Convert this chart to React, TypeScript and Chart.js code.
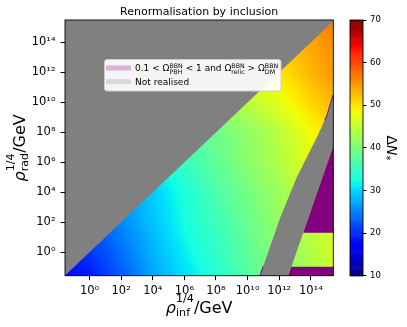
import React, { useEffect, useRef } from 'react';
import { Chart, registerables } from 'chart.js';

Chart.register(...registerables);

// ---------- data (log10 exponents) ----------
// grid nodes of the Delta N_* field
const logRhoInf = [-2, 0, 2, 4, 6, 8, 10, 12, 14, 16];
const logRhoRad = [-2, 0, 2, 4, 6, 8, 10, 12, 14, 16];
// Delta N_* read along rows of constant rho_rad (one array per rho_rad node)
const dN_rad_m2 = [17, 18.5, 22.5, 27, 30.5, 33.5, 37, 40, 43, 46];
const dN_rad_0 = [18.5, 20.5, 24, 28, 31.5, 34.5, 37.8, 41, 44, 47];
const dN_rad_2 = [19.5, 22, 25.5, 29, 32.5, 35.5, 38.6, 42, 45, 48];
const dN_rad_4 = [21, 23, 26.5, 29.5, 33, 36.5, 39.5, 42.5, 46, 49];
const dN_rad_6 = [22, 25, 28.5, 32, 35, 38, 41, 44, 47.5, 50.5];
const dN_rad_8 = [23, 26, 29.5, 33, 36, 39, 41.5, 44.5, 48.5, 51.5];
const dN_rad_10 = [24, 27, 31, 35, 38.5, 41.5, 44.5, 47.5, 51, 54];
const dN_rad_12 = [25, 28, 32, 36, 40, 43.5, 47, 50, 53, 56];
const dN_rad_14 = [26, 29, 33, 37, 41, 45, 49, 52, 54, 56.5];
const dN_rad_16 = [27, 30, 34, 38, 42, 46, 50, 53, 55.5, 58.5];
const deltaNRows = [dN_rad_m2, dN_rad_0, dN_rad_2, dN_rad_4, dN_rad_6, dN_rad_8, dN_rad_10, dN_rad_12, dN_rad_14, dN_rad_16];

// "not realised" region above rho_rad = rho_inf
const upperX = [-3, 17, -3];
const upperY = [-3, 17, 17];
// "not realised" band
const bandLeftX = [10.31, 10.78, 12.05, 13.12, 14.45, 15.02, 15.4, 16.0];
const bandLeftY = [-3, -1.58, 2.29, 5.02, 7.82, 9.15, 10.49, 12.0];
const bandRightX = [12.1, 13.518, 16.0];
const bandRightY = [-3, 1.3, 8.85];
// PBH region (0.1 < Omega_PBH < 1 and Omega_relic > Omega_DM)
const pbhUpperX = [16.0, 13.518, 16.0];
const pbhUpperY = [8.85, 1.3, 1.3];
const pbhLowerX = [12.767, 16.0, 16.0, 12.1];
const pbhLowerY = [-0.98, -0.98, -3, -3];
const pbhEdgeTopX = [14.87, 15.02, 15.4];
const pbhEdgeTopY = [8.8, 9.15, 10.49];
const pbhEdgeBotX = [10.31, 10.78, 10.98];
const pbhEdgeBotY = [-3, -1.58, -0.95];

const xTickExps = [0, 2, 4, 6, 8, 10, 12, 14];
const yTickExps = [0, 2, 4, 6, 8, 10, 12, 14];
const xRange = [-1.55, 15.42];
const yRange = [-1.57, 15.5];
const cbarRange = [10, 70];

const FONT = '"DejaVu Sans", sans-serif';
const GRAY = '#808080';
const PURPLE = '#800080';

const SUP: Record<string, string> = { '0': '\u2070', '1': '\u00b9', '2': '\u00b2', '3': '\u00b3', '4': '\u2074', '5': '\u2075', '6': '\u2076', '7': '\u2077', '8': '\u2078', '9': '\u2079', '-': '\u207b' };
const toSup = (n: number) => String(n).split('').map((c) => SUP[c] || c).join('');

function interp(t: number, pts: number[][]) {
  for (let i = 0; i < pts.length - 1; i++) {
    const [t0, v0] = pts[i];
    const [t1, v1] = pts[i + 1];
    if (t >= t0 && t <= t1) return v0 + ((v1 - v0) * (t - t0)) / (t1 - t0 || 1);
  }
  return pts[pts.length - 1][1];
}
function jet(t: number) {
  t = Math.max(0, Math.min(1, t));
  const r = interp(t, [[0, 0], [0.35, 0], [0.66, 1], [0.89, 1], [1, 0.5]]);
  const g = interp(t, [[0, 0], [0.125, 0], [0.375, 1], [0.64, 1], [0.91, 0], [1, 0]]);
  const b = interp(t, [[0, 0.5], [0.11, 1], [0.34, 1], [0.65, 0], [1, 0]]);
  return `rgb(${Math.round(r * 255)},${Math.round(g * 255)},${Math.round(b * 255)})`;
}

const pts = (xs: number[], ys: number[]) => xs.map((x, i) => ({ x: Math.pow(10, x), y: Math.pow(10, ys[i]) }));

type Piece = { t: string; it?: boolean } | { sup?: string; sub?: string };
function pieceWidth(ctx: CanvasRenderingContext2D, p: Piece, size: number) {
  if ('t' in p) {
    ctx.font = `${p.it ? 'italic ' : ''}${size}px ${FONT}`;
    return ctx.measureText(p.t).width;
  }
  ctx.font = `${size * 0.7}px ${FONT}`;
  return Math.max(p.sup ? ctx.measureText(p.sup).width : 0, p.sub ? ctx.measureText(p.sub).width : 0);
}
function drawMath(ctx: CanvasRenderingContext2D, pieces: Piece[], x: number, y: number, size: number, supDy: number, subDy: number, center: boolean) {
  const total = pieces.reduce((s, p) => s + pieceWidth(ctx, p, size), 0);
  let cx = center ? x - total / 2 : x;
  ctx.textAlign = 'left';
  ctx.textBaseline = 'alphabetic';
  for (const p of pieces) {
    const w = pieceWidth(ctx, p, size);
    if ('t' in p) {
      ctx.font = `${p.it ? 'italic ' : ''}${size}px ${FONT}`;
      ctx.fillText(p.t, cx, y);
    } else {
      ctx.font = `${size * 0.7}px ${FONT}`;
      if (p.sup) ctx.fillText(p.sup, cx, y + supDy);
      if (p.sub) ctx.fillText(p.sub, cx, y + subDy);
    }
    cx += w;
  }
}

const heatmapPlugin = {
  id: 'heatmap',
  beforeDatasetsDraw(chart: any) {
    const { ctx, chartArea: a, scales } = chart;
    const xs = scales.x;
    const ys = scales.y;
    ctx.save();
    ctx.beginPath();
    ctx.rect(a.left, a.top, a.right - a.left, a.bottom - a.top);
    ctx.clip();
    const S = 12;
    for (let j = 0; j < logRhoRad.length - 1; j++) {
      for (let i = 0; i < logRhoInf.length - 1; i++) {
        const v00 = deltaNRows[j][i];
        const v10 = deltaNRows[j][i + 1];
        const v01 = deltaNRows[j + 1][i];
        const v11 = deltaNRows[j + 1][i + 1];
        for (let b = 0; b < S; b++) {
          const ly0 = logRhoRad[j] + ((logRhoRad[j + 1] - logRhoRad[j]) * b) / S;
          const ly1 = logRhoRad[j] + ((logRhoRad[j + 1] - logRhoRad[j]) * (b + 1)) / S;
          const py0 = Math.round(ys.getPixelForValue(Math.pow(10, ly0)));
          const py1 = Math.round(ys.getPixelForValue(Math.pow(10, ly1)));
          const w = (b + 0.5) / S;
          for (let k = 0; k < S; k++) {
            const lx0 = logRhoInf[i] + ((logRhoInf[i + 1] - logRhoInf[i]) * k) / S;
            const lx1 = logRhoInf[i] + ((logRhoInf[i + 1] - logRhoInf[i]) * (k + 1)) / S;
            const px0 = Math.round(xs.getPixelForValue(Math.pow(10, lx0)));
            const px1 = Math.round(xs.getPixelForValue(Math.pow(10, lx1)));
            const u = (k + 0.5) / S;
            const v = v00 * (1 - u) * (1 - w) + v10 * u * (1 - w) + v01 * (1 - u) * w + v11 * u * w;
            ctx.fillStyle = jet((v - cbarRange[0]) / (cbarRange[1] - cbarRange[0]));
            ctx.fillRect(px0, py1, px1 - px0, py0 - py1);
          }
        }
      }
    }
    ctx.restore();
  },
};

const decorPlugin = {
  id: 'decor',
  afterDraw(chart: any) {
    const { ctx, chartArea: a, scales } = chart;
    ctx.save();
    // frame
    ctx.strokeStyle = '#000';
    ctx.lineWidth = 0.9;
    ctx.strokeRect(a.left, a.top, a.right - a.left, a.bottom - a.top);

    // colorbar
    const cb = scales.cb;
    const bx1 = cb.left;
    const bx0 = bx1 - 13;
    const step = 0.25;
    for (let v = cbarRange[0]; v < cbarRange[1]; v += step) {
      const y0 = cb.getPixelForValue(v);
      const y1 = cb.getPixelForValue(v + step);
      ctx.fillStyle = jet((v + step / 2 - cbarRange[0]) / (cbarRange[1] - cbarRange[0]));
      ctx.fillRect(bx0, y1, bx1 - bx0, y0 - y1 + 0.6);
    }
    const cTop = cb.getPixelForValue(cbarRange[1]);
    const cBot = cb.getPixelForValue(cbarRange[0]);
    ctx.strokeStyle = '#000';
    ctx.lineWidth = 0.9;
    ctx.strokeRect(bx0, cTop, bx1 - bx0, cBot - cTop);

    ctx.fillStyle = '#000';
    // title
    ctx.font = `11px ${FONT}`;
    ctx.textAlign = 'center';
    ctx.textBaseline = 'alphabetic';
    ctx.fillText('Renormalisation by inclusion', (a.left + a.right) / 2, 14.8);

    // x label
    drawMath(ctx, [{ t: '\u03c1', it: true }, { sup: '1/4', sub: 'inf' }, { t: '/GeV' }], (a.left + a.right) / 2, 313, 16, -11, 2.5, true);
    // y label
    ctx.save();
    ctx.translate(25, (a.top + a.bottom) / 2);
    ctx.rotate(-Math.PI / 2);
    drawMath(ctx, [{ t: '\u03c1', it: true }, { sup: '1/4', sub: 'rad' }, { t: '/GeV' }], 0, 0, 16, -11, 2.5, true);
    ctx.restore();
    // colorbar label
    ctx.save();
    ctx.translate(387, (cTop + cBot) / 2);
    ctx.rotate(Math.PI / 2);
    drawMath(ctx, [{ t: '\u0394' }, { t: 'N', it: true }, { sub: '*' }], 0, 0, 14, -6, 4, true);
    ctx.restore();

    // legend
    const lx = 104.5, ly = 59.5, lw = 176.5, lh = 31.5;
    ctx.beginPath();
    (ctx as any).roundRect(lx, ly, lw, lh, 2.5);
    ctx.fillStyle = 'rgba(255,255,255,0.92)';
    ctx.fill();
    ctx.strokeStyle = '#cccccc';
    ctx.lineWidth = 1;
    ctx.stroke();
    ctx.fillStyle = '#d9b3d9';
    ctx.fillRect(106, 65.5, 25, 5);
    ctx.fillStyle = '#d9d9d9';
    ctx.fillRect(106, 79.2, 25, 5);
    ctx.fillStyle = '#000';
    drawMath(
      ctx,
      [
        { t: '0.1 < \u03a9' },
        { sup: 'BBN', sub: 'PBH' },
        { t: ' < 1 and \u03a9' },
        { sup: 'BBN', sub: 'relic' },
        { t: ' > \u03a9' },
        { sup: 'BBN', sub: 'DM' },
      ],
      135, 71.3, 9, -3.6, 2.2, false
    );
    drawMath(ctx, [{ t: 'Not realised' }], 135, 85.3, 9, 0, 0, false);
    ctx.restore();
  },
};

function poly(data: any[], color: string, order: number) {
  return {
    data,
    showLine: true,
    fill: 'shape',
    backgroundColor: color,
    borderColor: 'rgba(0,0,0,0)',
    borderWidth: 0,
    pointRadius: 0,
    pointHoverRadius: 0,
    tension: 0,
    order,
  };
}
function edge(data: any[], order: number) {
  return {
    data,
    showLine: true,
    fill: false,
    borderColor: PURPLE,
    borderWidth: 1,
    pointRadius: 0,
    pointHoverRadius: 0,
    tension: 0,
    order,
  };
}

export default function App() {
  const ref = useRef<HTMLCanvasElement>(null);
  useEffect(() => {
    if (!ref.current) return;
    const bandX = bandLeftX.concat(bandRightX.slice().reverse());
    const bandY = bandLeftY.concat(bandRightY.slice().reverse());
    const tickFont = { family: FONT, size: 11.5 };
    const chart = new Chart(ref.current, {
      type: 'scatter',
      data: {
        datasets: [
          edge(pts(pbhEdgeTopX, pbhEdgeTopY), 0),
          edge(pts(pbhEdgeBotX, pbhEdgeBotY), 0),
          poly(pts(pbhUpperX, pbhUpperY), PURPLE, 1),
          poly(pts(pbhLowerX, pbhLowerY), PURPLE, 1),
          poly(pts(bandX, bandY), GRAY, 2),
          poly(pts(upperX, upperY), GRAY, 3),
        ] as any,
      },
      options: {
        responsive: false,
        devicePixelRatio: 1,
        animation: false,
        events: [],
        layout: { padding: { top: 20, left: 0, right: 0, bottom: 0 } },
        plugins: { legend: { display: false }, tooltip: { enabled: false }, title: { display: false } },
        scales: {
          x: {
            type: 'logarithmic',
            position: 'bottom',
            bounds: 'data',
            min: Math.pow(10, xRange[0]),
            max: Math.pow(10, xRange[1]),
            afterBuildTicks: (s: any) => {
              s.ticks = xTickExps.map((e) => ({ value: Math.pow(10, e) }));
            },
            afterFit: (s: any) => {
              s.height = 51.3;
            },
            ticks: {
              autoSkip: false,
              maxRotation: 0,
              padding: 4,
              color: '#000',
              font: tickFont,
              callback: (v: any) => '10' + toSup(Math.round(Math.log10(Number(v)))),
            },
            grid: { display: true, drawOnChartArea: false, drawTicks: true, tickLength: 4.5, tickColor: '#000', tickWidth: 1 },
            border: { display: false },
          },
          y: {
            type: 'logarithmic',
            position: 'left',
            bounds: 'data',
            min: Math.pow(10, yRange[0]),
            max: Math.pow(10, yRange[1]),
            afterBuildTicks: (s: any) => {
              s.ticks = yTickExps.map((e) => ({ value: Math.pow(10, e) }));
            },
            afterFit: (s: any) => {
              s.width = 65;
            },
            ticks: {
              autoSkip: false,
              padding: 5,
              color: '#000',
              font: tickFont,
              callback: (v: any) => '10' + toSup(Math.round(Math.log10(Number(v)))),
            },
            grid: { display: true, drawOnChartArea: false, drawTicks: true, tickLength: 4.5, tickColor: '#000', tickWidth: 1 },
            border: { display: false },
          },
          spacer: {
            type: 'linear',
            position: 'right',
            weight: 0,
            min: 0,
            max: 1,
            afterFit: (s: any) => {
              s.width = 29.7;
            },
            ticks: { display: false },
            grid: { display: false },
            border: { display: false },
          },
          cb: {
            type: 'linear',
            position: 'right',
            weight: 1,
            min: cbarRange[0],
            max: cbarRange[1],
            afterFit: (s: any) => {
              s.width = 44;
            },
            ticks: { stepSize: 10, padding: 3.5, color: '#000', font: { family: FONT, size: 8.5 } },
            grid: { display: true, drawOnChartArea: false, drawTicks: true, tickLength: 3.5, tickColor: '#000', tickWidth: 1 },
            border: { display: false },
          },
        },
      } as any,
      plugins: [heatmapPlugin, decorPlugin],
    });
    return () => chart.destroy();
  }, []);
  return (
    <div style={{ position: 'absolute', left: 0, top: 0, width: 407, height: 327 }}>
      <canvas ref={ref} width={407} height={327} style={{ width: 407, height: 327, display: 'block' }} />
    </div>
  );
}
